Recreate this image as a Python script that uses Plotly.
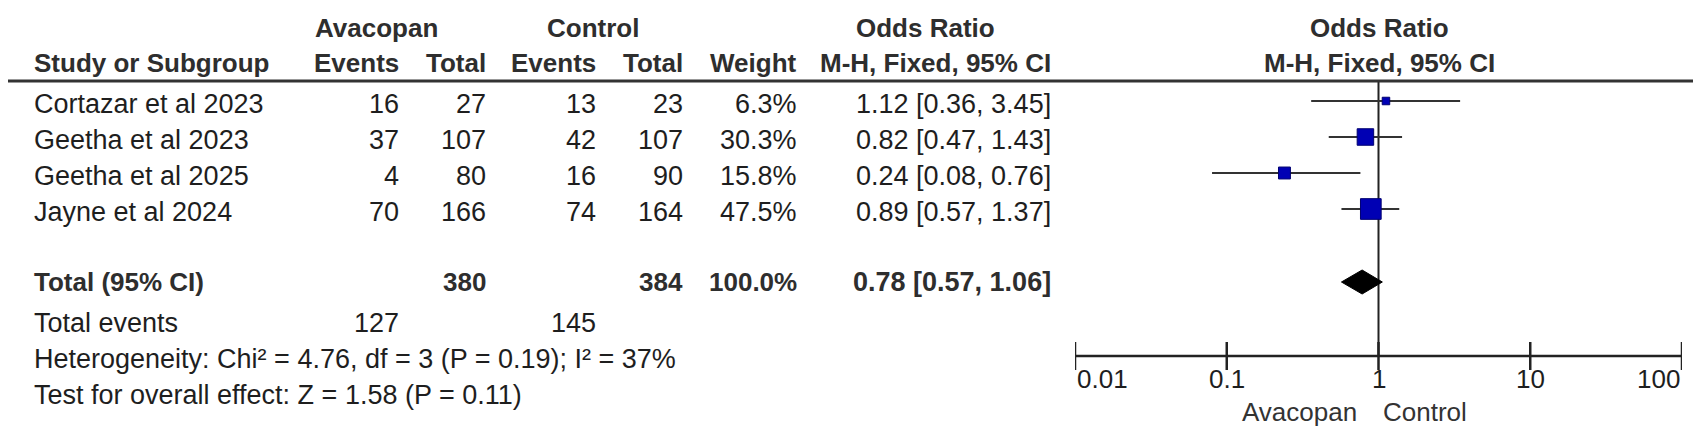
import math
import plotly.graph_objects as go

# study data
studies = ["Cortazar et al 2023", "Geetha et al 2023", "Geetha et al 2025", "Jayne et al 2024"]
av_events = [16, 37, 4, 70]
av_total = [27, 107, 80, 166]
ct_events = [13, 42, 16, 74]
ct_total = [23, 107, 90, 164]
weight = [6.3, 30.3, 15.8, 47.5]
or_est = [1.12, 0.82, 0.24, 0.89]
or_lo = [0.36, 0.47, 0.08, 0.57]
or_hi = [3.45, 1.43, 0.76, 1.37]

# pooled result
total_av = 380
total_ct = 384
total_weight = 100.0
pooled_or = 0.78
pooled_lo = 0.57
pooled_hi = 1.06
events_av = 127
events_ct = 145
heterogeneity = "Heterogeneity: Chi² = 4.76, df = 3 (P = 0.19); I² = 37%"
overall = "Test for overall effect: Z = 1.58 (P = 0.11)"

tick_vals = [0.01, 0.1, 1, 10, 100]
tick_labels = ["0.01", "0.1", "1", "10", "100"]
favours = ["Avacopan", "Control"]

# layout (pixels)
W, H = 1701, 427
ROW_Y = [96, 132, 168, 204]      # text rows
MARK_Y = [93, 129, 165, 201]     # CI lines / squares sit a little above the text
TOTAL_Y = 274
EVENTS_Y = 315
HET_Y = 351
TEST_Y = 387
HEAD1_Y, HEAD2_Y, LINE_Y = 20, 55, 73
AXIS_Y = 348
FONT = "Liberation Sans, Arial, sans-serif"
TXT = "#1e1e1e"
HDR = "#2e2e2e"
FS = 27
FSB = 26

annotations = []


def txt(s, x, y, anchor="right", bold=False, size=None, color=None):
    if bold:
        s = "<b>%s</b>" % s
    annotations.append(dict(text=s, x=x / W, y=1 - y / H, xref="paper", yref="paper",
                            xanchor=anchor, yanchor="middle", showarrow=False,
                            font=dict(family=FONT, size=size or (FSB if bold else FS),
                                      color=color or (HDR if bold else TXT))))


# headers
txt("Avacopan", 368, HEAD1_Y, "center", True)
txt("Control", 585, HEAD1_Y, "center", True)
txt("Odds Ratio", 917, HEAD1_Y, "center", True)
txt("Odds Ratio", 1371, HEAD1_Y, "center", True)
txt("Study or Subgroup", 24, HEAD2_Y, "left", True)
txt("Events", 393, HEAD2_Y, bold=True)
txt("Total", 480, HEAD2_Y, bold=True)
txt("Events", 590, HEAD2_Y, bold=True)
txt("Total", 677, HEAD2_Y, bold=True)
txt("Weight", 791, HEAD2_Y, bold=True)
txt("M-H, Fixed, 95% CI", 1045, HEAD2_Y, bold=True)
txt("M-H, Fixed, 95% CI", 1371, HEAD2_Y, "center", True)

# study rows
for i, name in enumerate(studies):
    y = ROW_Y[i]
    txt(name, 24, y, "left")
    txt(str(av_events[i]), 393, y)
    txt(str(av_total[i]), 480, y)
    txt(str(ct_events[i]), 590, y)
    txt(str(ct_total[i]), 677, y)
    txt("%.1f%%" % weight[i], 791, y)
    txt("%.2f [%.2f, %.2f]" % (or_est[i], or_lo[i], or_hi[i]), 1045, y)

# totals
txt("Total (95% CI)", 24, TOTAL_Y, "left", True)
txt(str(total_av), 480, TOTAL_Y, bold=True)
txt(str(total_ct), 677, TOTAL_Y, bold=True)
txt("%.1f%%" % total_weight, 791, TOTAL_Y, bold=True)
txt("%.2f [%.2f, %.2f]" % (pooled_or, pooled_lo, pooled_hi), 1045, TOTAL_Y, bold=True, size=FS)
txt("Total events", 24, EVENTS_Y, "left")
txt(str(events_av), 393, EVENTS_Y)
txt(str(events_ct), 590, EVENTS_Y)
txt(heterogeneity, 24, HET_Y, "left")
txt(overall, 24, TEST_Y, "left")

fig = go.Figure()

# line of no effect
fig.add_trace(go.Scatter(x=[1, 1], y=[LINE_Y, AXIS_Y], mode="lines",
                         line=dict(color="#222", width=2), hoverinfo="skip"))

# confidence intervals and squares
for i in range(len(studies)):
    fig.add_trace(go.Scatter(x=[or_lo[i], or_hi[i]], y=[MARK_Y[i], MARK_Y[i]], mode="lines",
                             line=dict(color="#333", width=2.2), hoverinfo="skip"))
fig.add_trace(go.Scatter(x=or_est, y=MARK_Y, mode="markers", opacity=1,
                         marker=dict(symbol="square", color="#0000b4", opacity=1,
                                     size=[3 * math.sqrt(w) for w in weight],
                                     line=dict(color="#000070", width=1))))

# pooled diamond
fig.add_trace(go.Scatter(x=[pooled_lo, pooled_or, pooled_hi, pooled_or, pooled_lo],
                         y=[TOTAL_Y, TOTAL_Y - 12, TOTAL_Y, TOTAL_Y + 12, TOTAL_Y],
                         mode="lines", fill="toself", fillcolor="black",
                         line=dict(color="black", width=1), hoverinfo="skip"))

# x axis
fig.add_trace(go.Scatter(x=[tick_vals[0], tick_vals[-1]], y=[AXIS_Y, AXIS_Y], mode="lines",
                         line=dict(color="#222", width=2.5), hoverinfo="skip"))
fig.add_trace(go.Scatter(x=tick_vals, y=[AXIS_Y] * len(tick_vals), mode="markers",
                         marker=dict(symbol="line-ns", size=20, line=dict(color="#222", width=2.5)),
                         hoverinfo="skip"))
for j, (v, lab) in enumerate(zip(tick_vals, tick_labels)):
    anchor = "left" if j == 0 else ("right" if j == len(tick_vals) - 1 else "center")
    annotations.append(dict(text=lab, x=math.log10(v), xref="x", y=1 - 371 / H, yref="paper",
                            xanchor=anchor, yanchor="middle", showarrow=False,
                            font=dict(family=FONT, size=26, color=TXT)))
annotations.append(dict(text=favours[0], x=0, xref="x", xshift=-20, y=1 - 404 / H, yref="paper",
                        xanchor="right", yanchor="middle", showarrow=False,
                        font=dict(family=FONT, size=26, color="#333")))
annotations.append(dict(text=favours[1], x=0, xref="x", xshift=2, y=1 - 404 / H, yref="paper",
                        xanchor="left", yanchor="middle", showarrow=False,
                        font=dict(family=FONT, size=26, color="#333")))

fig.update_layout(
    width=W, height=H, margin=dict(l=0, r=0, t=0, b=0),
    paper_bgcolor="white", plot_bgcolor="white", showlegend=False,
    xaxis=dict(type="log", range=[-2, 2], domain=[1067 / W, 1674 / W], visible=False),
    yaxis=dict(range=[H, 0], domain=[0, 1], visible=False),
    annotations=annotations,
    shapes=[dict(type="line", xref="paper", yref="paper", x0=0, x1=1,
                 y0=1 - LINE_Y / H, y1=1 - LINE_Y / H, line=dict(color="#333", width=3))],
)

fig.write_html("out.html")
